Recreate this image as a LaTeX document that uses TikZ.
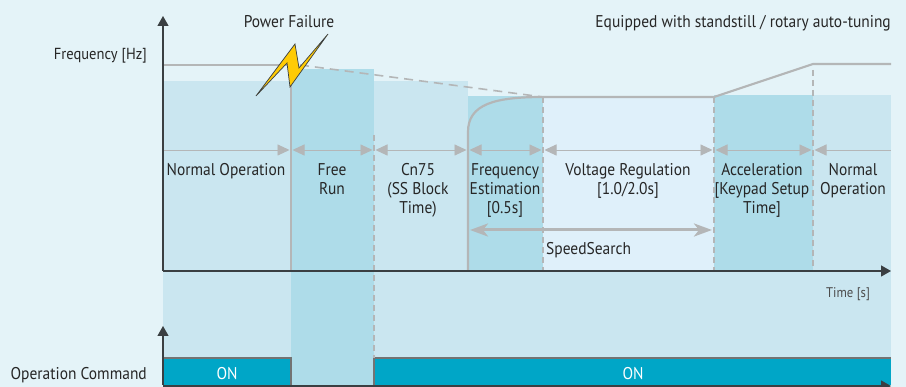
\documentclass[tikz,border=0pt]{standalone}
\usepackage{fontspec}
\setmainfont[FakeStretch=0.91]{PT Sans}
\usetikzlibrary{arrows.meta}
\definecolor{pagebg}{HTML}{E4F3F8}
\definecolor{phaselight}{HTML}{CAE6F0}
\definecolor{phasedark}{HTML}{AEDCE9}
\definecolor{phasepale}{HTML}{DFF0FA}
\definecolor{cmdbar}{HTML}{00A6C7}
\definecolor{curvegray}{HTML}{B4B6B7}
\definecolor{axisdark}{HTML}{3A3F42}
\definecolor{boltyellow}{HTML}{FFCB05}
\tikzset{
  axisline/.style={draw=axisdark,line width=1.3pt,-{Triangle[length=10pt,width=11pt]}},
  curve/.style={draw=curvegray,line width=2.2pt},
  stepline/.style={draw=curvegray,line width=1.7pt,dash pattern=on 6pt off 4pt},
  span/.style={draw=curvegray,line width=0.9pt,{Triangle[length=12pt,width=11pt]}-{Triangle[length=12pt,width=11pt]},shorten >=0.5pt,shorten <=0.5pt},
  phasetext/.style={font=\fontsize{17}{19}\selectfont,text=black!85,align=center,inner sep=0pt,anchor=north},
  labeltext/.style={font=\fontsize{17}{19}\selectfont,text=black!85,inner sep=0pt},
}
\begin{document}
\begin{tikzpicture}[x=1pt,y=-1pt]
  \useasboundingbox (0,0) rectangle (906,387);
  \fill[pagebg] (0,0) rectangle (906,387);
  % phases
  \fill[phaselight] (163,81) rectangle (291,358);
  \fill[phaselight] (374,81) rectangle (468,358);
  \fill[phaselight] (468,271) rectangle (891,358);
  \fill[phasedark] (291,69) rectangle (374,385);
  \fill[phasedark] (468,96) rectangle (543,271);
  \fill[phasepale] (543,97) rectangle (714,271);
  \fill[phasedark] (714,95) rectangle (813,271);
  \fill[phaselight] (813,95) rectangle (891,271);
  % operation command
  \fill[cmdbar] (163,358) rectangle (291,385);
  \fill[cmdbar] (374,358) rectangle (891,385);
  \draw[draw=black!55,line width=1.2pt] (163,358) -- (291,358) -- (291,385);
  \draw[draw=black!55,line width=1.2pt] (374,385) -- (374,358) -- (891,358);
  % frequency
  \coordinate (fa) at (163,65);
  \coordinate (fb) at (291,65);
  \coordinate (fc) at (543,97);
  \coordinate (fd) at (714,97);
  \coordinate (fe) at (813,64);
  \coordinate (ff) at (891,64);
  \draw[curve,line width=1.8pt] (fa) -- (fb);
  \draw[curve,dash pattern=on 9pt off 6pt,line width=1.6pt] (300,65) -- (fc);
  \draw[curve] (468,271) -- (468,132) .. controls (468,104) and (495,97) .. (fc) -- (fd) -- (fe) -- (ff);
  \draw[curve,line width=2pt] (291,85) -- (291,271);
  \draw[stepline] (374,135) -- (374,358);
  \draw[stepline] (543,97) -- (543,271);
  \draw[stepline] (714,97) -- (714,271);
  \draw[stepline] (813,70) -- (813,271);
  % spans
  \draw[span,-{Triangle[length=12pt,width=11pt]}] (163,150) -- (290,150);
  \draw[span] (292,150) -- (373,150);
  \draw[span] (375,150) -- (467,150);
  \draw[span] (469,150) -- (542,150);
  \draw[span] (544,150) -- (713,150);
  \draw[span] (715,150) -- (812,150);
  \draw[span,{Triangle[length=12pt,width=11pt]}-] (814,150) -- (891,150);
  \draw[draw=curvegray,line width=3pt,{Stealth[length=18pt,width=13pt,inset=5pt]}-{Stealth[length=18pt,width=13pt,inset=5pt]}] (470,230) -- (712,230);
  % axes
  \draw[axisline] (163,271) -- (163,16);
  \draw[axisline] (163,271) -- (891,271);
  \draw[axisline] (163,385) -- (163,326);
  \draw[axisline] (163,386) -- (891,386);
  % bolt
  \draw[draw=axisdark,fill=boltyellow,line width=0.7pt,line join=miter] (256,96) -- (295,44) -- (299,68) -- (328,34) -- (290,87) -- (287,63) -- cycle;
  % labels
  \node[labeltext] (powerfail) at (289,22) {Power Failure};
  \node[labeltext,anchor=east] (tuning) at (891,23) {Equipped with standstill / rotary auto-tuning};
  \node[labeltext,anchor=east,font=\fontsize{16}{19}\selectfont] (freq) at (147,56) {Frequency [Hz]};
  \node[labeltext,anchor=east] (opcmd) at (147,375) {Operation Command};
  \node[phasetext] (normal) at (226,163) {Normal Operation};
  \node[phasetext] (free) at (332,163) {Free\\Run};
  \node[phasetext] (cn) at (418,163) {Cn75\\(SS Block\\Time)};
  \node[phasetext] (est) at (505,163) {Frequency\\Estimation\\{[0.5s]}};
  \node[phasetext] (volt) at (628,163) {Voltage Regulation\\{[1.0/2.0s]}};
  \node[phasetext] (acc) at (762,163) {Acceleration\\{[Keypad Setup}\\Time]};
  \node[phasetext] (norm) at (853,163) {Normal\\Operation};
  \node[labeltext,anchor=west] (speed) at (546,250) {SpeedSearch};
  \node[labeltext,text=black!70,font=\fontsize{14}{15}\selectfont] (time) at (848,294) {Time [s]};
  \node[labeltext,text=white] (onl) at (227,374) {ON};
  \node[labeltext,text=white] (onr) at (633,374) {ON};
\end{tikzpicture}
\end{document}
